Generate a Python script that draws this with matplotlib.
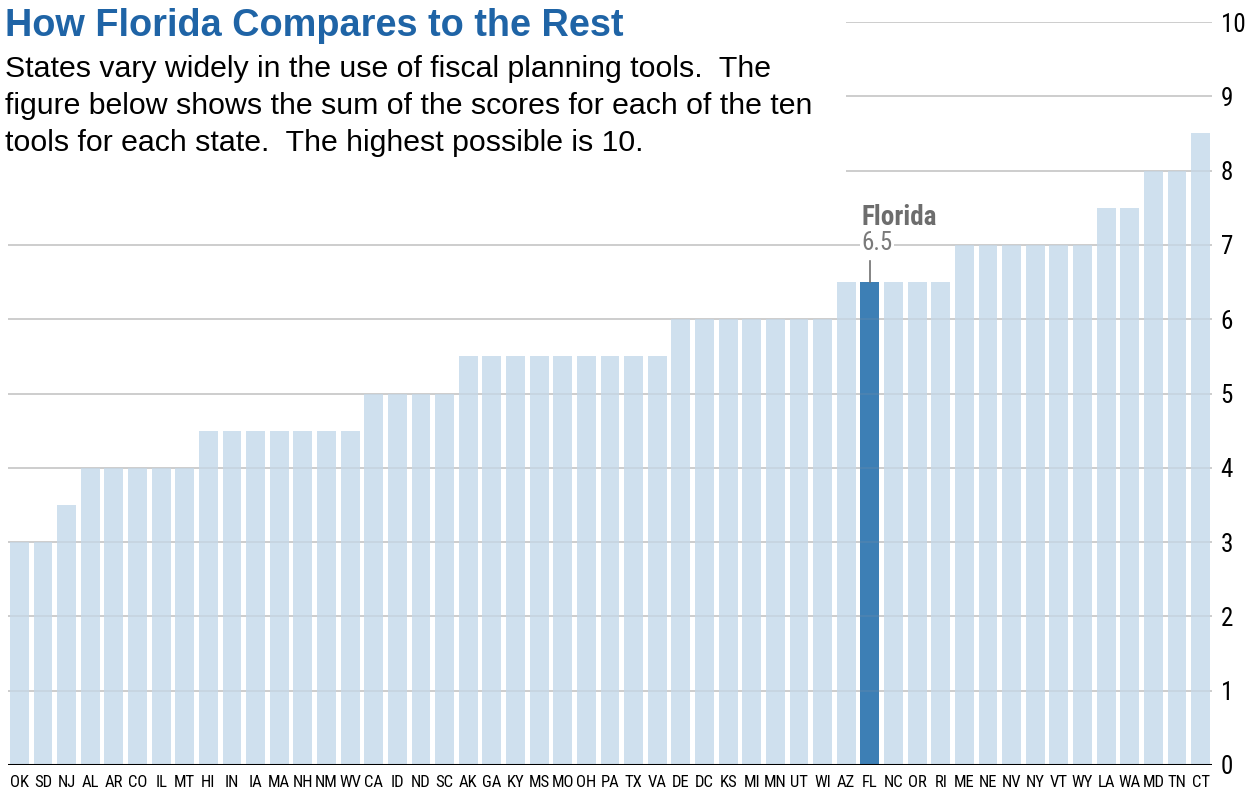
import numpy as np
import matplotlib.pyplot as plt
from matplotlib import font_manager

## sum of fiscal planning tool scores per state (highest possible is 10)
states = ['OK', 'SD', 'NJ', 'AL', 'AR', 'CO', 'IL', 'MT', 'HI', 'IN', 'IA', 'MA', 'NH', 'NM', 'WV',
          'CA', 'ID', 'ND', 'SC', 'AK', 'GA', 'KY', 'MS', 'MO', 'OH', 'PA', 'TX', 'VA', 'DE', 'DC',
          'KS', 'MI', 'MN', 'UT', 'WI', 'AZ', 'FL', 'NC', 'OR', 'RI', 'ME', 'NE', 'NV', 'NY', 'VT',
          'WY', 'LA', 'WA', 'MD', 'TN', 'CT']
scores = [3, 3, 3.5, 4, 4, 4, 4, 4, 4.5, 4.5, 4.5, 4.5, 4.5, 4.5, 4.5,
          5, 5, 5, 5, 5.5, 5.5, 5.5, 5.5, 5.5, 5.5, 5.5, 5.5, 5.5, 6, 6,
          6, 6, 6, 6, 6, 6.5, 6.5, 6.5, 6.5, 6.5, 7, 7, 7, 7, 7,
          7, 7.5, 7.5, 8, 8, 8.5]
yticks = [0, 1, 2, 3, 4, 5, 6, 7, 8, 9, 10]
highlight = 'FL'

## use a condensed face if one is around, else a plain sans at a smaller size
installed = {f.name for f in font_manager.fontManager.ttflist}
narrow_name = next((n for n in ['Roboto Condensed', 'Liberation Sans Narrow', 'DejaVu Sans Condensed']
                    if n in installed), None)
if narrow_name:
    narrow = [narrow_name, 'DejaVu Sans']
    xsize, ysize = 12, 18
else:
    narrow = ['Liberation Sans', 'DejaVu Sans']
    xsize, ysize = 10, 16

W, H = 1251, 799

fig = plt.figure(figsize=(W / 100, H / 100), dpi=100)
ax = fig.add_axes([7.6 / W, (H - 765) / H, (1212.4 - 7.6) / W, (765 - 22) / H])

x = np.arange(len(states))
colors = ['#3d7fb5' if s == highlight else '#cfe0ee' for s in states]
ax.bar(x, scores, width=0.8, color=colors, zorder=2)

## gridlines, the upper ones stop short of the text block
for t in yticks[1:]:
    x0 = 35.0 if t >= 8 else -0.5
    ax.hlines(t, x0, 50.5, color='#d6d6d6', linewidth=1.4, zorder=1)
    ax.hlines(t, x0, 50.5, color='#9a9a9a', alpha=0.15, linewidth=1.4, zorder=3)
ax.axhline(0, color='black', linewidth=2.2, zorder=4)

ax.set_xlim(-0.5, 50.5)
ax.set_ylim(0, 10)
ax.set_xticks(x)
ax.set_xticklabels(states, family=narrow, fontsize=xsize)
ax.yaxis.tick_right()
ax.set_yticks(yticks)
ax.set_yticklabels([str(t) for t in yticks], family=narrow, fontsize=ysize)
ax.tick_params(axis='both', length=0)
ax.tick_params(axis='y', pad=6)
ax.tick_params(axis='x', pad=7)
for sp in ax.spines.values():
    sp.set_visible(False)

## Florida callout
i = states.index(highlight)
v = scores[i]
ax.plot([i, i], [v, v + 0.29], color='#707070', linewidth=1.2, zorder=4)
ax.text(i - 0.35, v + 0.52, f'{v}', family=narrow, fontsize=ysize, color='#7a7a7a',
        ha='left', va='center', zorder=5,
        bbox=dict(facecolor='white', edgecolor='none', pad=1))
ax.text(i - 0.35, v + 0.87, 'Florida', family=narrow, fontsize=19.5, fontweight='bold',
        color='#6d6d6d', ha='left', va='center', zorder=5)

## title and description
fig.text(5 / W, 1 - 36 / H, 'How Florida Compares to the Rest',
         family=['Liberation Sans', 'DejaVu Sans'], fontsize=27.3,
         fontweight='bold', color='#1f64a6', ha='left', va='baseline')
desc = ['States vary widely in the use of fiscal planning tools.  The',
        'figure below shows the sum of the scores for each of the ten',
        'tools for each state.  The highest possible is 10.']
for k, line in enumerate(desc):
    fig.text(5 / W, 1 - (77 + 37 * k) / H, line, family=['Liberation Sans', 'DejaVu Sans'],
             fontsize=21.8, color='black', ha='left', va='baseline')

fig.savefig('out.png', dpi=100)
